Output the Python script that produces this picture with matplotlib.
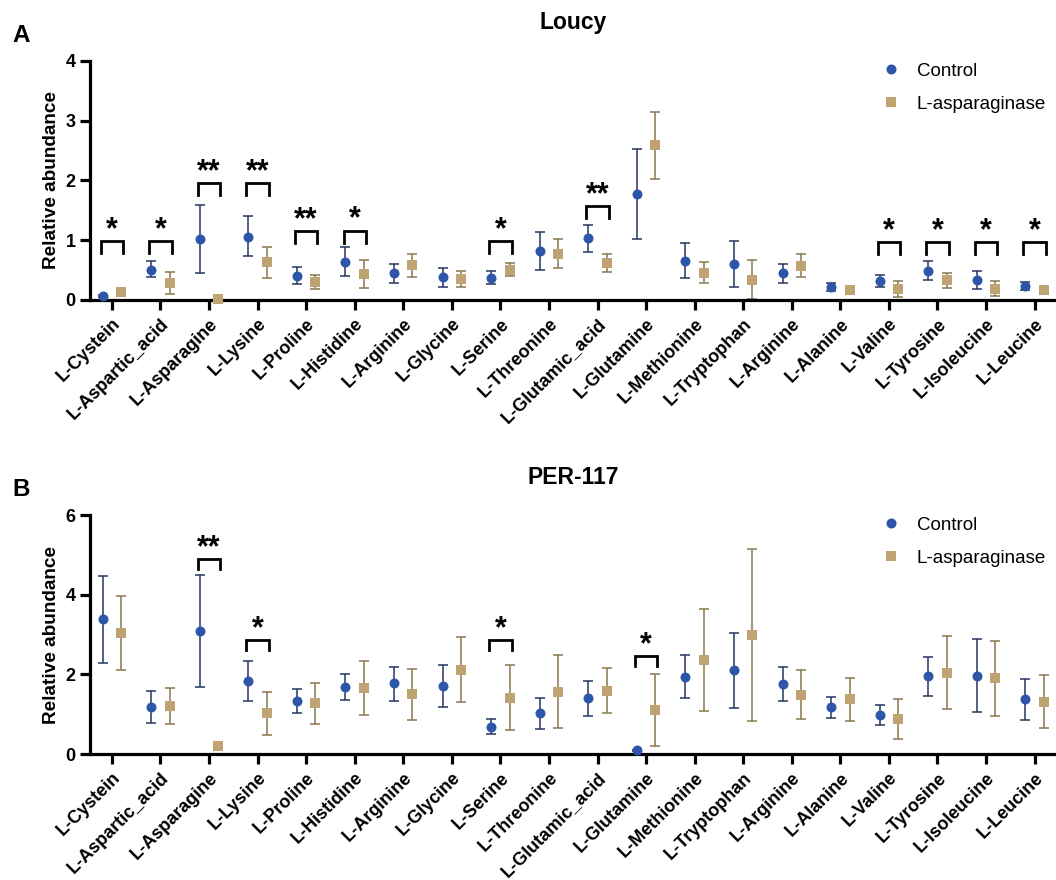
import matplotlib
matplotlib.use("Agg")
import matplotlib.pyplot as plt
import numpy as np

plt.rcParams['font.family'] = ['Liberation Sans', 'DejaVu Sans']

amino_acids = ["L-Cystein", "L-Aspartic_acid", "L-Asparagine", "L-Lysine", "L-Proline",
               "L-Histidine", "L-Arginine", "L-Glycine", "L-Serine", "L-Threonine",
               "L-Glutamic_acid", "L-Glutamine", "L-Methionine", "L-Tryptophan", "L-Arginine",
               "L-Alanine", "L-Valine", "L-Tyrosine", "L-Isoleucine", "L-Leucine"]

# Loucy: mean with lower / upper error-bar bounds
loucy_ctrl = [0.07, 0.51, 1.02, 1.06, 0.41, 0.64, 0.45, 0.38, 0.37, 0.82,
              1.04, 1.77, 0.66, 0.60, 0.45, 0.22, 0.32, 0.49, 0.34, 0.23]
loucy_ctrl_lo = [0.05, 0.38, 0.45, 0.73, 0.26, 0.40, 0.28, 0.22, 0.26, 0.51,
                 0.81, 1.02, 0.37, 0.21, 0.28, 0.15, 0.22, 0.33, 0.19, 0.16]
loucy_ctrl_hi = [0.09, 0.66, 1.59, 1.41, 0.55, 0.88, 0.61, 0.54, 0.48, 1.13,
                 1.26, 2.53, 0.95, 0.99, 0.60, 0.29, 0.42, 0.66, 0.49, 0.30]
loucy_asp = [0.14, 0.29, 0.02, 0.64, 0.30, 0.44, 0.58, 0.35, 0.51, 0.77,
             0.62, 2.59, 0.46, 0.34, 0.57, 0.17, 0.18, 0.33, 0.19, 0.16]
loucy_asp_lo = [0.12, 0.10, 0.01, 0.37, 0.18, 0.20, 0.38, 0.21, 0.40, 0.53,
                0.47, 2.03, 0.28, 0.01, 0.38, 0.15, 0.05, 0.20, 0.07, 0.14]
loucy_asp_hi = [0.16, 0.47, 0.03, 0.89, 0.42, 0.67, 0.77, 0.49, 0.62, 1.02,
                0.77, 3.15, 0.64, 0.67, 0.77, 0.19, 0.32, 0.46, 0.32, 0.18]

# PER-117
per_ctrl = [3.39, 1.19, 3.09, 1.83, 1.33, 1.69, 1.77, 1.71, 0.69, 1.02,
            1.40, 0.09, 1.94, 2.11, 1.75, 1.18, 0.98, 1.95, 1.97, 1.38]
per_ctrl_lo = [2.29, 0.79, 1.68, 1.32, 1.03, 1.36, 1.33, 1.17, 0.49, 0.63,
               0.96, 0.08, 1.40, 1.16, 1.32, 0.91, 0.72, 1.46, 1.05, 0.86]
per_ctrl_hi = [4.48, 1.59, 4.49, 2.33, 1.63, 2.02, 2.19, 2.24, 0.89, 1.41,
               1.83, 0.10, 2.49, 3.05, 2.18, 1.44, 1.24, 2.44, 2.89, 1.88]
per_asp = [3.05, 1.21, 0.20, 1.02, 1.27, 1.66, 1.51, 2.12, 1.41, 1.56,
           1.59, 1.10, 2.36, 2.99, 1.49, 1.37, 0.88, 2.03, 1.90, 1.31]
per_asp_lo = [2.11, 0.75, 0.19, 0.48, 0.76, 0.98, 0.86, 1.31, 0.59, 0.66,
              1.02, 0.19, 1.07, 0.83, 0.87, 0.83, 0.38, 1.12, 0.95, 0.65]
per_asp_hi = [3.97, 1.66, 0.21, 1.56, 1.77, 2.33, 2.13, 2.93, 2.23, 2.49,
              2.17, 2.02, 3.65, 5.15, 2.12, 1.92, 1.37, 2.95, 2.84, 1.99]

# significance marks: (category index, label)
loucy_sig = [(0, "*"), (1, "*"), (2, "**"), (3, "**"), (4, "**"), (5, "*"),
             (8, "*"), (10, "**"), (16, "*"), (17, "*"), (18, "*"), (19, "*")]
per_sig = [(2, "**"), (3, "*"), (8, "*"), (11, "*")]

# bracket heights for each significance mark
loucy_bracket_y = [0.98, 0.98, 1.95, 1.95, 1.15, 1.16, 0.98, 1.57, 0.97, 0.97, 0.97, 0.97]
per_bracket_y = [4.90, 2.86, 2.85, 2.46]

CTRL_COLOR = "#2E56A8"
CTRL_ERR = "#24365E"
ASP_COLOR = "#BFA372"
ASP_ERR = "#8C764F"

W, H = 1056, 880
fig = plt.figure(figsize=(W / 100, H / 100), dpi=100)

def fx(px):
    return px / W

def fy(py):
    return 1 - py / H

ax_left, ax_right = 90, 1056
panels = [
    dict(top=61, bottom=300, ymax=4, yticks=[0, 1, 2, 3, 4], title="Loucy", letter="A",
         title_y=23, letter_y=35,
         ctrl=loucy_ctrl, clo=loucy_ctrl_lo, chi=loucy_ctrl_hi,
         asp=loucy_asp, alo=loucy_asp_lo, ahi=loucy_asp_hi,
         sig=loucy_sig, by=loucy_bracket_y, leg_y=55),
    dict(top=515, bottom=754, ymax=6, yticks=[0, 2, 4, 6], title="PER-117", letter="B",
         title_y=477, letter_y=490,
         ctrl=per_ctrl, clo=per_ctrl_lo, chi=per_ctrl_hi,
         asp=per_asp, alo=per_asp_lo, ahi=per_asp_hi,
         sig=per_sig, by=per_bracket_y, leg_y=509),
]

x = np.arange(len(amino_acids))
off = 0.19

for p in panels:
    ax = fig.add_axes([fx(ax_left), fy(p["bottom"]), fx(ax_right - ax_left),
                       (p["bottom"] - p["top"]) / H])
    ymax = p["ymax"]
    ax.set_xlim(-0.45, 19.44)
    ax.set_ylim(0, ymax)

    c = np.array(p["ctrl"]); clo = np.array(p["clo"]); chi = np.array(p["chi"])
    a = np.array(p["asp"]); alo = np.array(p["alo"]); ahi = np.array(p["ahi"])

    ax.errorbar(x - off, c, yerr=[c - clo, chi - c], fmt="none", ecolor=CTRL_ERR,
                elinewidth=1.1, capsize=3.3, capthick=1.1, zorder=2, clip_on=False)
    ax.errorbar(x + off, a, yerr=[a - alo, ahi - a], fmt="none", ecolor=ASP_ERR,
                elinewidth=1.1, capsize=3.3, capthick=1.1, zorder=2, clip_on=False)
    ax.plot(x - off, c, "o", color=CTRL_COLOR, markersize=7.2, markeredgewidth=0,
            zorder=3, clip_on=False, label="Control")
    ax.plot(x + off, a, "s", color=ASP_COLOR, markersize=6.9, markeredgewidth=0,
            zorder=3, clip_on=False, label="L-asparaginase")

    # significance brackets
    unit = (p["bottom"] - p["top"]) / ymax  # pixels per data unit
    leg = (12 if ymax == 4 else 10) / unit
    star_gap = 11 / unit
    for (idx, lab), yb in zip(p["sig"], p["by"]):
        x0, x1 = idx - 0.23, idx + 0.23
        ax.plot([x0, x0, x1, x1], [yb - leg, yb, yb, yb - leg], color="black",
                lw=2.0, solid_joinstyle="miter", zorder=4, clip_on=False)
        ax.text(idx, yb + star_gap, lab, ha="center", va="center", fontsize=22,
                fontweight="bold", color="black")

    for s in ["top", "right"]:
        ax.spines[s].set_visible(False)
    for s in ["left", "bottom"]:
        ax.spines[s].set_linewidth(2.3)
    ax.set_yticks(p["yticks"])
    ax.set_xticks(x)
    ax.set_xticklabels(amino_acids, rotation=45, ha="right", rotation_mode="anchor",
                       fontsize=13, fontweight="bold")
    ax.tick_params(axis="both", width=2.3, length=7, labelsize=13)
    ax.tick_params(axis="x", pad=4)
    for t in ax.get_yticklabels():
        t.set_fontweight("bold")
    ax.set_ylabel("Relative abundance", fontsize=13.7, fontweight="bold", labelpad=3.5)

    ax.legend(loc="upper left", bbox_to_anchor=(fx(872), fy(p["leg_y"])),
              bbox_transform=fig.transFigure, frameon=False, fontsize=13.5,
              handlelength=1.2, handletextpad=0.8, labelspacing=0.85,
              markerscale=1.0, borderaxespad=0)

    fig.text(fx(573), fy(p["title_y"]), p["title"], ha="center", va="center",
             fontsize=16.5, fontweight="bold")
    fig.text(fx(12), fy(p["letter_y"]), p["letter"], ha="left", va="center",
             fontsize=17.5, fontweight="bold")

fig.savefig("out.png", dpi=100)
